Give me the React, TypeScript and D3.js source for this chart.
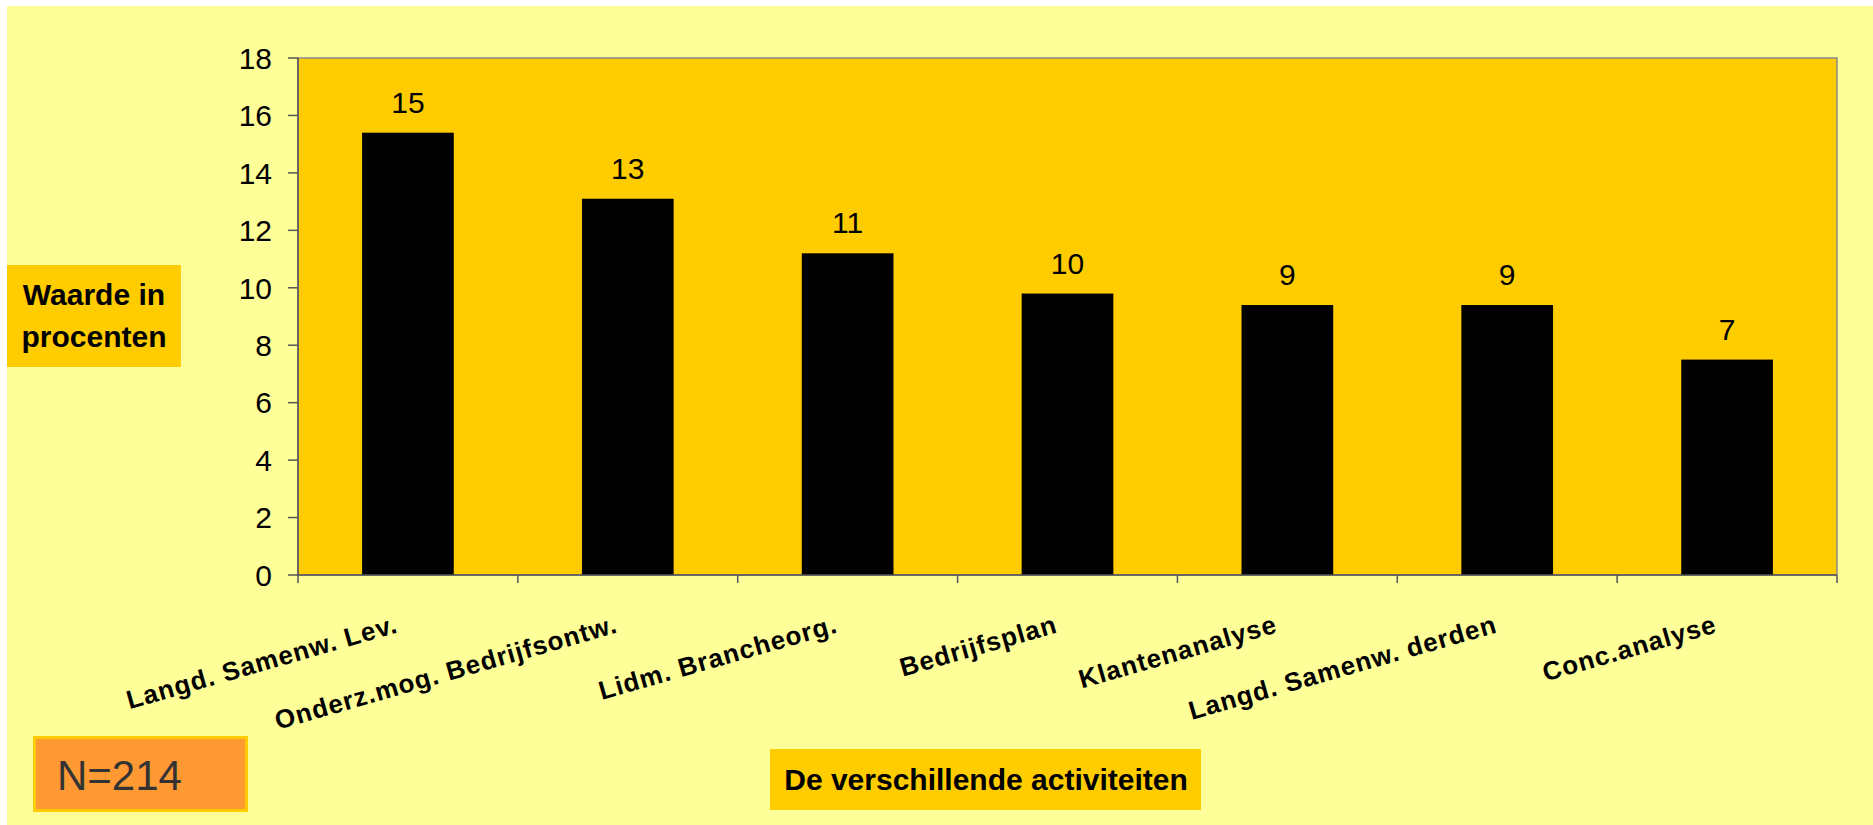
import * as d3 from "d3"

const categories = [
    "Langd. Samenw. Lev.",
    "Onderz.mog. Bedrijfsontw.",
    "Lidm. Brancheorg.",
    "Bedrijfsplan",
    "Klantenanalyse",
    "Langd. Samenw. derden",
    "Conc.analyse",
]
const values = [15.4, 13.1, 11.2, 9.8, 9.4, 9.4, 7.5]
const valueLabels = ["15", "13", "11", "10", "9", "9", "7"]
const yTicks = [0, 2, 4, 6, 8, 10, 12, 14, 16, 18]
const yTitle = ["Waarde in", "procenten"]
const xTitle = "De verschillende activiteiten"
const sampleNote = "N=214"

const W = 1873
const H = 825
const FONT = "'Liberation Sans', Arial, Helvetica, sans-serif"

export default function App() {
    const plot = { left: 298, right: 1837, top: 58, bottom: 575 }

    const x = d3
        .scaleBand<string>()
        .domain(categories)
        .range([plot.left, plot.right])
        .paddingInner(0.583)
        .paddingOuter(0.2915)

    const y = d3.scaleLinear().domain([0, 18]).range([plot.bottom, plot.top])

    const step = x.step()
    const boundaries = d3.range(categories.length + 1).map((i) => plot.left + i * step)

    return (
        <div style={{ position: "absolute", left: 0, top: 0 }}>
            <svg width={W} height={H} style={{ display: "block", fontFamily: FONT }}>
                <rect x={0} y={0} width={W} height={H} fill="#ffffff" />
                <rect x={7} y={6} width={W - 7} height={H - 6} fill="#FFFF99" />

                {/* plot area */}
                <rect
                    x={plot.left}
                    y={plot.top}
                    width={plot.right - plot.left}
                    height={plot.bottom - plot.top}
                    fill="#FFCC00"
                    stroke="#8a8a8a"
                    strokeWidth={1.5}
                />

                {/* bars */}
                {categories.map((c, i) => (
                    <rect
                        key={c}
                        x={x(c)!}
                        y={y(values[i])}
                        width={x.bandwidth()}
                        height={plot.bottom - y(values[i])}
                        fill="#000000"
                    />
                ))}

                {/* value labels */}
                {categories.map((c, i) => (
                    <text
                        key={c + "-v"}
                        x={x(c)! + x.bandwidth() / 2}
                        y={y(values[i]) - 20}
                        textAnchor="middle"
                        fontSize={30}
                        fill="#000"
                    >
                        {valueLabels[i]}
                    </text>
                ))}

                {/* y axis */}
                <line x1={plot.left} x2={plot.left} y1={plot.top} y2={plot.bottom} stroke="#555" strokeWidth={1.5} />
                {yTicks.map((t) => (
                    <g key={t}>
                        <line x1={plot.left - 10} x2={plot.left} y1={y(t)} y2={y(t)} stroke="#555" strokeWidth={1.5} />
                        <text x={272} y={y(t)} dy="0.36em" textAnchor="end" fontSize={30} fill="#000">
                            {t}
                        </text>
                    </g>
                ))}

                {/* x axis */}
                <line x1={plot.left} x2={plot.right} y1={plot.bottom} y2={plot.bottom} stroke="#555" strokeWidth={1.5} />
                {boundaries.map((bx, i) => (
                    <line key={i} x1={bx} x2={bx} y1={plot.bottom} y2={plot.bottom + 8} stroke="#555" strokeWidth={1.5} />
                ))}
                {categories.map((c) => {
                    const cx = x(c)! + x.bandwidth() / 2 - 14
                    const cy = 614
                    return (
                        <text
                            key={c + "-x"}
                            x={cx}
                            y={cy}
                            dy="0.72em"
                            textAnchor="end"
                            fontSize={26}
                            fontWeight="bold"
                            letterSpacing={1}
                            fill="#000"
                            transform={`rotate(-16, ${cx}, ${cy})`}
                        >
                            {c}
                        </text>
                    )
                })}

                {/* y title box */}
                <rect x={7} y={265} width={174} height={102} fill="#FFCC00" />
                {yTitle.map((line, i) => (
                    <text
                        key={line}
                        x={94}
                        y={305 + i * 42}
                        textAnchor="middle"
                        fontSize={30}
                        fontWeight="bold"
                        fill="#000"
                    >
                        {line}
                    </text>
                ))}

                {/* x title box */}
                <rect x={770} y={749} width={431} height={61} fill="#FFCC00" />
                <text x={986} y={790} textAnchor="middle" fontSize={30} fontWeight="bold" fill="#000">
                    {xTitle}
                </text>

                {/* sample size */}
                <rect x={34.5} y={737.5} width={212} height={73} fill="#FF9933" stroke="#FFCC00" strokeWidth={3} />
                <text x={57} y={790} fontSize={42} fill="#333333">
                    {sampleNote}
                </text>
            </svg>
        </div>
    )
}
